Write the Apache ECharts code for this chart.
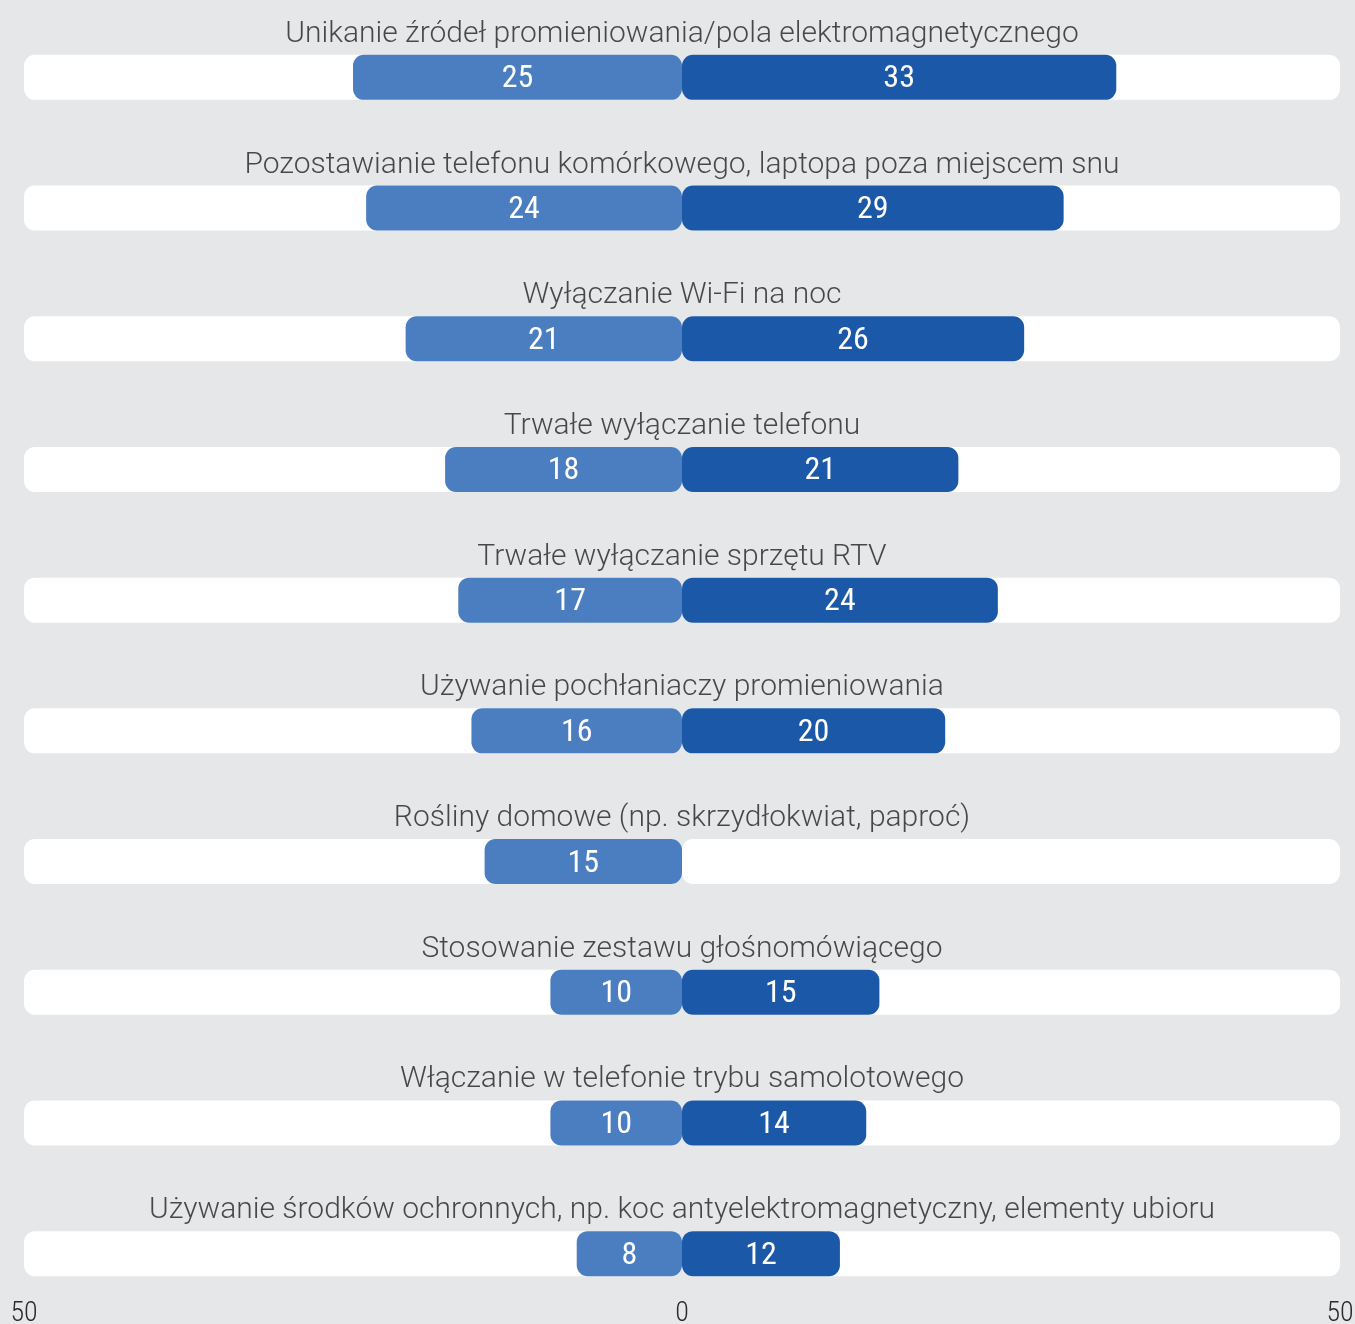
<!DOCTYPE html>
<html>
<head>
<meta charset="utf-8">
<script src="https://cdn.jsdelivr.net/npm/echarts@6/dist/echarts.min.js"></script>
<style>
  html, body { margin: 0; padding: 0; background: #e6e7e9; }
  #chart { width: 1355px; height: 1324px; }
</style>
</head>
<body>
<div id="chart"></div>
<script>
// Categories, top to bottom
const categories = [
  'Unikanie źródeł promieniowania/pola elektromagnetycznego',
  'Pozostawianie telefonu komórkowego, laptopa poza miejscem snu',
  'Wyłączanie Wi-Fi na noc',
  'Trwałe wyłączanie telefonu',
  'Trwałe wyłączanie sprzętu RTV',
  'Używanie pochłaniaczy promieniowania',
  'Rośliny domowe (np. skrzydłokwiat, paproć)',
  'Stosowanie zestawu głośnomówiącego',
  'Włączanie w telefonie trybu samolotowego',
  'Używanie środków ochronnych, np. koc antyelektromagnetyczny, elementy ubioru'
];
// Left-hand values (drawn to the left of zero)
const leftValues = [25, 24, 21, 18, 17, 16, 15, 10, 10, 8];
// Right-hand values (null = no bar)
const rightValues = [33, 29, 26, 21, 24, 20, null, 15, 14, 12];
// Axis extent
const axisMax = 50;

const chart = echarts.init(document.getElementById('chart'), null, { renderer: 'canvas' });

const valueFont = '"Roboto Condensed", "Liberation Sans Narrow", "DejaVu Sans Condensed", Roboto, sans-serif';
const titleFont = 'Roboto, "Noto Sans", sans-serif';

const barH = 45;
const radius = 11;

chart.setOption({
  backgroundColor: '#e6e7e9',
  animation: false,
  grid: {
    left: 24, right: 15, top: 12, bottom: 5,
    containLabel: false,
    outerBoundsMode: 'none'
  },
  xAxis: {
    type: 'value',
    min: -axisMax,
    max: axisMax,
    interval: axisMax,
    splitLine: { show: false },
    axisLine: { show: false },
    axisTick: { show: false },
    axisLabel: {
      margin: -19,
      color: '#2b2b2b',
      fontFamily: valueFont,
      fontWeight: 300,
      fontSize: 28,
      formatter: v => String(Math.abs(v))
    }
  },
  yAxis: {
    type: 'category',
    data: categories,
    inverse: true,
    axisLine: { show: false },
    axisTick: { show: false },
    axisLabel: { show: false }
  },
  series: [
    {
      type: 'bar',
      name: 'trackLeft',
      barWidth: barH,
      barGap: '-100%',
      silent: true,
      itemStyle: { color: '#ffffff', borderRadius: radius },
      data: categories.map(() => -axisMax)
    },
    {
      type: 'bar',
      name: 'trackRight',
      barWidth: barH,
      barGap: '-100%',
      silent: true,
      itemStyle: { color: '#ffffff', borderRadius: radius },
      data: categories.map(() => axisMax)
    },
    {
      type: 'bar',
      name: 'left',
      barWidth: barH,
      barGap: '-100%',
      itemStyle: { color: '#4a7ec1', borderRadius: radius },
      label: {
        show: true,
        position: 'inside',
        offset: [0, 2],
        color: '#fff',
        fontFamily: valueFont,
        fontWeight: 'normal',
        fontSize: 32,
        formatter: p => String(Math.abs(p.value))
      },
      data: leftValues.map(v => -v)
    },
    {
      type: 'bar',
      name: 'right',
      barWidth: barH,
      barGap: '-100%',
      itemStyle: { color: '#1b58a8', borderRadius: radius },
      label: {
        show: true,
        position: 'inside',
        offset: [0, 2],
        color: '#fff',
        fontFamily: valueFont,
        fontWeight: 'normal',
        fontSize: 32,
        formatter: p => p.value == null ? '' : String(p.value)
      },
      data: rightValues
    },
    {
      // category titles centred over each track
      type: 'scatter',
      symbolSize: 0,
      silent: true,
      label: {
        show: true,
        position: 'inside',
        offset: [0, -43],
        color: '#1f1f1f',
        fontFamily: titleFont,
        fontWeight: 300,
        fontSize: 30,
        formatter: p => categories[p.dataIndex]
      },
      data: categories.map(c => [0, c])
    }
  ]
});
</script>
</body>
</html>
